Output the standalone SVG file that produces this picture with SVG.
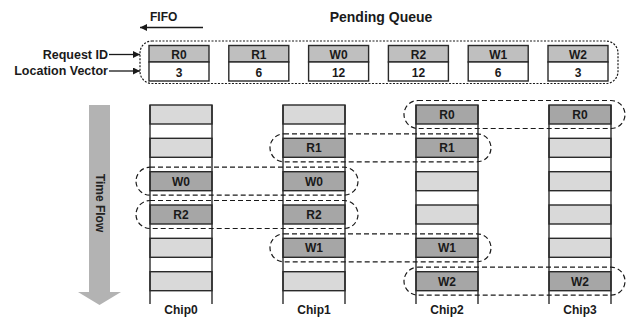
<svg xmlns="http://www.w3.org/2000/svg" width="643" height="320" viewBox="0 0 643 320">
<style>
text{font-family:"Liberation Sans",Arial,sans-serif;font-weight:bold;fill:#1a1a1a}
.c{text-anchor:middle;font-size:12px}
.lbl{font-size:12.5px;text-anchor:end}
.cell{stroke:#2a2a2a;stroke-width:1.4}
.hd{fill:#bfbfbf}
.dk{fill:#a6a6a6}
.lt{fill:#d9d9d9}
.wh{fill:#ffffff}
.side{stroke:#2a2a2a;stroke-width:1.4}
.grp{fill:none;stroke:#1a1a1a;stroke-width:1.2;stroke-dasharray:5 3}
.q{fill:none;stroke:#1a1a1a;stroke-width:1.2;stroke-dasharray:2 1.5}
.arr{stroke:#1a1a1a;stroke-width:1.3;fill:none}
</style>
<defs>
<marker id="ah" viewBox="0 0 10 10" refX="10" refY="5" markerWidth="10" markerHeight="7" markerUnits="userSpaceOnUse" orient="auto">
<path d="M0,0 L10,5 L0,10 z" fill="#1a1a1a"/>
</marker>
</defs>
<rect width="643" height="320" fill="#fff"/>

<g id="titles">
<text x="150" y="21" style="font-size:12px">FIFO</text>
<text x="381" y="22" style="font-size:14px;text-anchor:middle">Pending Queue</text>
<text class="lbl" x="108" y="59">Request ID</text>
<text class="lbl" x="108" y="75">Location Vector</text>
</g>

<g id="connectors">
<line class="arr" x1="203" y1="27.5" x2="140" y2="27.5" marker-end="url(#ah)"/>
<line class="arr" x1="109" y1="54.5" x2="140" y2="54.5" marker-end="url(#ah)"/>
<line class="arr" x1="109" y1="71" x2="140" y2="71" marker-end="url(#ah)"/>
</g>

<g id="pending-queue">
<rect class="q" x="140" y="41" width="478" height="42.5" rx="12"/>
<g id="q-R0"><rect class="cell hd" x="149" y="45.5" width="60" height="16.5"/><rect class="cell wh" x="149" y="62" width="60" height="19"/><text class="c" x="179" y="58.5">R0</text><text class="c" x="179" y="76.5">3</text></g>
<g id="q-R1"><rect class="cell hd" x="228.8" y="45.5" width="60" height="16.5"/><rect class="cell wh" x="228.8" y="62" width="60" height="19"/><text class="c" x="258.8" y="58.5">R1</text><text class="c" x="258.8" y="76.5">6</text></g>
<g id="q-W0"><rect class="cell hd" x="308.6" y="45.5" width="60" height="16.5"/><rect class="cell wh" x="308.6" y="62" width="60" height="19"/><text class="c" x="338.6" y="58.5">W0</text><text class="c" x="338.6" y="76.5">12</text></g>
<g id="q-R2"><rect class="cell hd" x="388.4" y="45.5" width="60" height="16.5"/><rect class="cell wh" x="388.4" y="62" width="60" height="19"/><text class="c" x="418.4" y="58.5">R2</text><text class="c" x="418.4" y="76.5">12</text></g>
<g id="q-W1"><rect class="cell hd" x="468.2" y="45.5" width="60" height="16.5"/><rect class="cell wh" x="468.2" y="62" width="60" height="19"/><text class="c" x="498.2" y="58.5">W1</text><text class="c" x="498.2" y="76.5">6</text></g>
<g id="q-W2"><rect class="cell hd" x="548" y="45.5" width="60" height="16.5"/><rect class="cell wh" x="548" y="62" width="60" height="19"/><text class="c" x="578" y="58.5">W2</text><text class="c" x="578" y="76.5">3</text></g>
</g>

<g id="time-flow">
<polygon points="89,105 110,105 110,292 121,292 99.5,305 78,292 89,292" fill="#b3b3b3"/>
<text transform="translate(96,203) rotate(90)" style="font-size:12px;text-anchor:middle;fill:#222">Time Flow</text>
</g>

<g id="chip0">
<rect class="cell lt" x="150" y="105" width="62" height="19"/>
<rect class="cell lt" x="150" y="138.3" width="62" height="19"/>
<rect class="cell dk" x="150" y="171.7" width="62" height="19"/>
<rect class="cell dk" x="150" y="205" width="62" height="19"/>
<rect class="cell lt" x="150" y="238.3" width="62" height="19"/>
<rect class="cell lt" x="150" y="271.7" width="62" height="19"/>
<line class="side" x1="150" y1="105" x2="150" y2="304"/><line class="side" x1="212" y1="105" x2="212" y2="304"/>
<text class="c" x="181" y="185.5">W0</text>
<text class="c" x="181" y="218.8">R2</text>
<text class="c" x="181" y="314">Chip0</text>
</g>

<g id="chip1">
<rect class="cell lt" x="283" y="105" width="62" height="19"/>
<rect class="cell dk" x="283" y="138.3" width="62" height="19"/>
<rect class="cell dk" x="283" y="171.7" width="62" height="19"/>
<rect class="cell dk" x="283" y="205" width="62" height="19"/>
<rect class="cell dk" x="283" y="238.3" width="62" height="19"/>
<rect class="cell lt" x="283" y="271.7" width="62" height="19"/>
<line class="side" x1="283" y1="105" x2="283" y2="304"/><line class="side" x1="345" y1="105" x2="345" y2="304"/>
<text class="c" x="314" y="152.1">R1</text>
<text class="c" x="314" y="185.5">W0</text>
<text class="c" x="314" y="218.8">R2</text>
<text class="c" x="314" y="252.1">W1</text>
<text class="c" x="314" y="314">Chip1</text>
</g>

<g id="chip2">
<rect class="cell dk" x="416" y="105" width="62" height="19"/>
<rect class="cell dk" x="416" y="138.3" width="62" height="19"/>
<rect class="cell lt" x="416" y="171.7" width="62" height="19"/>
<rect class="cell lt" x="416" y="205" width="62" height="19"/>
<rect class="cell dk" x="416" y="238.3" width="62" height="19"/>
<rect class="cell dk" x="416" y="271.7" width="62" height="19"/>
<line class="side" x1="416" y1="105" x2="416" y2="304"/><line class="side" x1="478" y1="105" x2="478" y2="304"/>
<text class="c" x="447" y="118.8">R0</text>
<text class="c" x="447" y="152.1">R1</text>
<text class="c" x="447" y="252.1">W1</text>
<text class="c" x="447" y="285.5">W2</text>
<text class="c" x="447" y="314">Chip2</text>
</g>

<g id="chip3">
<rect class="cell dk" x="549" y="105" width="62" height="19"/>
<rect class="cell lt" x="549" y="138.3" width="62" height="19"/>
<rect class="cell lt" x="549" y="171.7" width="62" height="19"/>
<rect class="cell lt" x="549" y="205" width="62" height="19"/>
<rect class="cell lt" x="549" y="238.3" width="62" height="19"/>
<rect class="cell dk" x="549" y="271.7" width="62" height="19"/>
<line class="side" x1="549" y1="105" x2="549" y2="304"/><line class="side" x1="611" y1="105" x2="611" y2="304"/>
<text class="c" x="580" y="118.8">R0</text>
<text class="c" x="580" y="285.5">W2</text>
<text class="c" x="580" y="314">Chip3</text>
</g>

<g id="groups">
<rect class="grp" x="404" y="100.5" width="221" height="28" rx="14"/>
<rect class="grp" x="270" y="133.8" width="221" height="28" rx="14"/>
<rect class="grp" x="136" y="167.2" width="222" height="28" rx="14"/>
<rect class="grp" x="136" y="200.5" width="222" height="28" rx="14"/>
<rect class="grp" x="270" y="233.8" width="221" height="28" rx="14"/>
<rect class="grp" x="404" y="267.2" width="221" height="28" rx="14"/>
</g>
</svg>
